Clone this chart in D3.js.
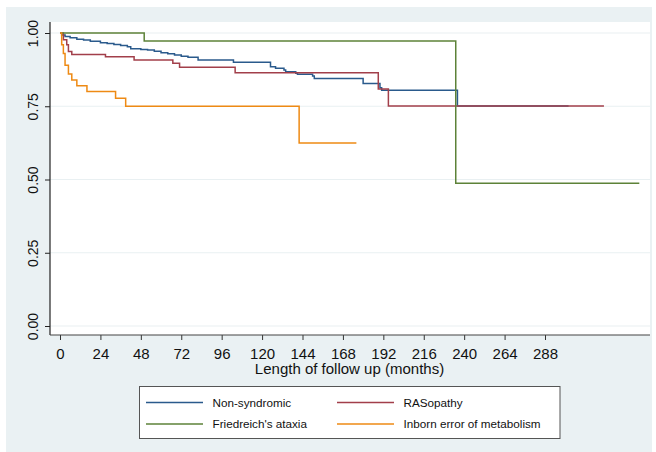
<!DOCTYPE html>
<html>
<head>
    <meta charset="UTF-8" />
    <title>Kaplan-Meier survival</title>
    <script src="https://d3js.org/d3.v7.min.js"></script>
    <style>
    body { margin: 0; background: #fff; }
    svg text { font-family: "Liberation Sans", Arial, Helvetica, sans-serif; fill: #111; }
    </style>
</head>
<body>
<div id="main"></div>
<script type="text/javascript">

// tick labels
const xTicks = [0, 24, 48, 72, 96, 120, 144, 168, 192, 216, 240, 264, 288]
const yTicks = [0, 0.25, 0.5, 0.75, 1]

// series (time in months, survival after the step)
const seriesNames = ["Non-syndromic", "RASopathy", "Friedreich's ataxia", "Inborn error of metabolism"]

const nonSyndTime = [0, 1, 3, 6, 10, 14, 18, 24, 28, 32, 36, 40, 42, 48, 52, 56, 60, 64, 68, 72, 76, 82, 103, 125, 128, 133, 134, 140, 141, 150, 151, 180, 190, 191, 236, 302]
const nonSyndSurv = [1, 0.993, 0.988, 0.984, 0.979, 0.976, 0.972, 0.967, 0.964, 0.961, 0.957, 0.953, 0.946, 0.944, 0.942, 0.938, 0.933, 0.929, 0.925, 0.921, 0.917, 0.908, 0.900, 0.885, 0.880, 0.874, 0.868, 0.863, 0.859, 0.853, 0.845, 0.828, 0.813, 0.805, 0.751, 0.751]

const rasTime = [0, 2, 4, 5, 7, 27, 44, 67, 71, 104, 189, 195, 323]
const rasSurv = [1, 0.977, 0.96, 0.937, 0.927, 0.919, 0.908, 0.897, 0.883, 0.864, 0.809, 0.751, 0.751]

const friedTime = [0, 50, 235, 344]
const friedSurv = [1, 0.973, 0.487, 0.487]

const inbornTime = [0, 1, 2, 3, 5, 7, 10, 16, 33, 39, 142, 176]
const inbornSurv = [1, 0.96, 0.93, 0.89, 0.86, 0.84, 0.82, 0.80, 0.777, 0.75, 0.625, 0.625]

const colours = ["#2a5a8c", "#a23f4a", "#5d8238", "#ee8a14"]

const series = [
  { name: seriesNames[0], t: nonSyndTime, s: nonSyndSurv },
  { name: seriesNames[1], t: rasTime, s: rasSurv },
  { name: seriesNames[2], t: friedTime, s: friedSurv },
  { name: seriesNames[3], t: inbornTime, s: inbornSurv }
]

const width = 656
const height = 452

const svg = d3.select("#main").append("svg")
  .attr("width", width)
  .attr("height", height)

// outer bluish-grey background
svg.append("rect")
  .attr("x", 6).attr("y", 7)
  .attr("width", 646).attr("height", 445)
  .attr("fill", "#eaf1f3")

const plot = { left: 50, right: 650, top: 22, bottom: 335 }

svg.append("rect")
  .attr("x", plot.left).attr("y", plot.top)
  .attr("width", plot.right - plot.left).attr("height", plot.bottom - plot.top)
  .attr("fill", "#fff")

const x = d3.scaleLinear().domain([0, 288]).range([60, 545])
const y = d3.scaleLinear().domain([0, 1]).range([326, 33])

// grid
svg.selectAll("line.grid").data(yTicks).enter().append("line")
  .attr("class", "grid")
  .attr("x1", plot.left).attr("x2", plot.right)
  .attr("y1", d => y(d)).attr("y2", d => y(d))
  .attr("stroke", "#e9f0f2")
  .attr("stroke-width", 1.2)

// y axis
const yAxis = svg.append("g")
  .attr("transform", `translate(${plot.left},0)`)
  .call(d3.axisLeft(y).tickValues(yTicks).tickSize(5).tickFormat(d3.format(".2f")))
yAxis.select(".domain").remove()
yAxis.append("line")
  .attr("x1", 0).attr("x2", 0).attr("y1", plot.top).attr("y2", plot.bottom)
  .attr("stroke", "#222").attr("stroke-width", 1.2)
yAxis.selectAll(".tick line").attr("stroke", "#222")
yAxis.selectAll(".tick text")
  .attr("x", 0).attr("y", 0)
  .attr("dy", null)
  .attr("text-anchor", "middle")
  .attr("transform", "translate(-12,0) rotate(-90)")
  .style("font-size", "14px")
  .style("fill", "#111")

// x axis
const xAxis = svg.append("g")
  .attr("transform", `translate(0,${plot.bottom})`)
  .call(d3.axisBottom(x).tickValues(xTicks).tickSize(5).tickPadding(8))
xAxis.select(".domain").remove()
xAxis.append("line")
  .attr("x1", plot.left).attr("x2", plot.right)
  .attr("stroke", "#444").attr("stroke-width", 1.2)
xAxis.selectAll(".tick line").attr("stroke", "#333")
xAxis.selectAll(".tick text")
  .style("font-size", "15px")
  .style("fill", "#111")

svg.append("text")
  .attr("x", 349.5).attr("y", 374)
  .attr("text-anchor", "middle")
  .style("font-size", "15px")
  .text("Length of follow up (months)")

// curves
const line = d3.line()
  .x(d => x(d[0]))
  .y(d => y(d[1]))
  .curve(d3.curveStepAfter)

svg.selectAll("path.km").data(series).enter().append("path")
  .attr("class", "km")
  .attr("d", d => line(d.t.map((t, i) => [t, d.s[i]])))
  .attr("fill", "none")
  .attr("stroke", (d, i) => colours[i])
  .attr("stroke-width", 1.5)

// legend
const legend = svg.append("g")
legend.append("rect")
  .attr("x", 139.5).attr("y", 386.5)
  .attr("width", 420.5).attr("height", 52)
  .attr("fill", "#fff")
  .attr("stroke", "#555")
  .attr("stroke-width", 1)

const legX = [146, 337]
const legY = [402.5, 424]

const items = legend.selectAll("g.item").data(series).enter().append("g")
  .attr("class", "item")
  .attr("transform", (d, i) => `translate(${legX[i % 2]},${legY[Math.floor(i / 2)]})`)
items.append("line")
  .attr("x1", 0).attr("x2", 57)
  .attr("stroke", (d, i) => colours[i])
  .attr("stroke-width", 1.4)
items.append("text")
  .attr("x", 66.5).attr("y", 4.2)
  .style("font-size", "11.7px")
  .text(d => d.name)

</script>
</body>
</html>
